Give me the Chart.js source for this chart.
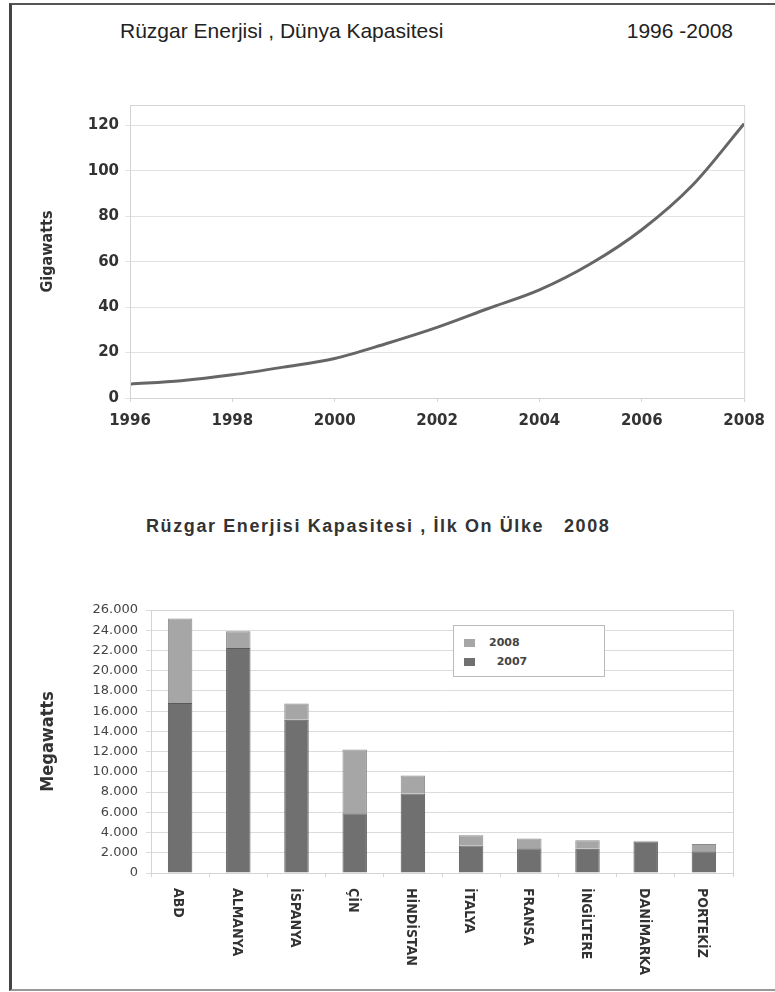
<!DOCTYPE html>
<html lang="tr">
<head>
    <meta charset="UTF-8">
    <title>Rüzgar Enerjisi</title>
    <script src="https://cdn.jsdelivr.net/npm/chart.js"></script>
    <style>
        body {
            margin: 0;
            background: #ffffff;
            font-family: "Liberation Sans", Arial, sans-serif;
            color: #222;
            width: 775px;
            height: 992px;
            overflow: hidden;
            position: relative;
        }

        .frame {
            position: absolute;
            left: 9px;
            top: 3px;
            width: 800px;
            height: 984px;
            border-left: 3px solid #444;
            border-top: 2px solid #555;
            border-bottom: 2px solid #999;
        }

        .title {
            position: absolute;
            white-space: pre;
        }

        #world-title {
            left: 120px;
            top: 19px;
            font-size: 21px;
        }

        #world-years {
            right: 42px;
            top: 19px;
            font-size: 21px;
        }

        #top10-title {
            left: 146px;
            top: 516px;
            font-size: 18px;
            font-weight: bold;
            letter-spacing: 1.6px;
            color: #333;
        }

        .box {
            position: absolute;
            left: 0;
            width: 775px;
        }

        #world-box { top: 90px; height: 350px; }
        #top10-box { top: 590px; height: 400px; }

        .legend {
            position: absolute;
            left: 453px;
            top: 625px;
            width: 150px;
            height: 50px;
            border: 1px solid #bbb;
            background: #fff;
            font-family: "DejaVu Sans", sans-serif;
            font-size: 11px;
            font-weight: bold;
            color: #444;
        }

        .legend div {
            position: absolute;
            left: 10px;
        }

        .legend span {
            display: inline-block;
            width: 11px;
            height: 8px;
            margin-right: 14px;
            vertical-align: middle;
        }
    </style>
</head>
<body>
    <div class="frame"></div>

    <div class="title" id="world-title">Rüzgar Enerjisi , Dünya Kapasitesi</div>
    <div class="title" id="world-years">1996 -2008</div>
    <div class="box" id="world-box"><canvas id="world-chart"></canvas></div>

    <div class="title" id="top10-title">Rüzgar Enerjisi Kapasitesi , İlk On Ülke   2008</div>
    <div class="box" id="top10-box"><canvas id="top10-chart"></canvas></div>

    <div class="legend">
        <div style="top: 10px;"><span style="background:#a6a6a6"></span>2008</div>
        <div style="top: 29px;"><span style="background:#707070"></span>&nbsp; 2007</div>
    </div>

    <script>
        // World installed capacity, GW
        const years = [1996, 1997, 1998, 1999, 2000, 2001, 2002, 2003, 2004, 2005, 2006, 2007, 2008];
        const gigawatts = [6.1, 7.6, 10.2, 13.6, 17.4, 23.9, 31.1, 39.4, 47.6, 59.1, 74.1, 93.9, 120.8];

        // Top ten countries, MW at end of year
        const countries = ["ABD", "ALMANYA", "İSPANYA", "ÇİN", "HİNDİSTAN", "İTALYA", "FRANSA", "İNGİLTERE", "DANİMARKA", "PORTEKİZ"];
        const mw2007 = [16818, 22247, 15145, 5912, 7850, 2726, 2454, 2389, 3125, 2150];
        const mw2008 = [25170, 23903, 16754, 12210, 9645, 3736, 3404, 3241, 3180, 2862];

        const narrow = "'Liberation Sans Narrow', 'DejaVu Sans Condensed', sans-serif";

        Chart.defaults.animation = false;
        Chart.defaults.responsive = true;
        Chart.defaults.maintainAspectRatio = false;
        Chart.defaults.plugins.legend.display = false;
        Chart.defaults.plugins.tooltip.enabled = false;

        // light frame round the plot area
        const plotFrame = {
            id: "plotFrame",
            afterDraw(chart) {
                const a = chart.chartArea;
                const ctx = chart.ctx;
                ctx.save();
                ctx.strokeStyle = "#d4d4d4";
                ctx.lineWidth = 1;
                ctx.strokeRect(a.left + 0.5, a.top + 0.5, a.right - a.left, a.bottom - a.top);
                ctx.restore();
            }
        };

        // country names turned to read downwards under each bar
        const downLabels = {
            id: "downLabels",
            afterDraw(chart) {
                const x = chart.scales.x;
                const ctx = chart.ctx;
                ctx.save();
                ctx.fillStyle = "#333";
                ctx.font = "bold 14px " + narrow;
                ctx.textAlign = "left";
                ctx.textBaseline = "middle";
                countries.forEach((name, i) => {
                    ctx.save();
                    ctx.translate(x.getPixelForValue(i) - 2, chart.chartArea.bottom + 15);
                    ctx.rotate(Math.PI / 2);
                    ctx.fillText(name, 0, 0);
                    ctx.restore();
                });
                ctx.restore();
            }
        };

        new Chart(document.getElementById("world-chart"), {
            type: "line",
            data: {
                datasets: [{
                    data: years.map((y, i) => ({ x: y, y: gigawatts[i] })),
                    borderColor: "#666666",
                    borderWidth: 3,
                    pointRadius: 0,
                    cubicInterpolationMode: "monotone",
                    fill: false
                }]
            },
            options: {
                layout: { padding: { top: 13, right: 29, left: 0, bottom: 0 } },
                scales: {
                    x: {
                        type: "linear",
                        min: 1996,
                        max: 2008,
                        afterFit: s => { s.height = 42; },
                        grid: { drawOnChartArea: false, color: "#d4d4d4", tickLength: 4 },
                        border: { color: "#c8c8c8" },
                        ticks: {
                            stepSize: 2,
                            padding: 10,
                            color: "#333",
                            font: { family: "'DejaVu Sans', sans-serif", size: 15, weight: "bold" },
                            callback: v => String(v)
                        }
                    },
                    y: {
                        min: 0,
                        max: 129,
                        afterFit: s => { s.width = 130; },
                        grid: { color: "#e2e2e2", tickLength: 5 },
                        border: { color: "#c8c8c8" },
                        ticks: {
                            stepSize: 20,
                            includeBounds: false,
                            padding: 6,
                            color: "#333",
                            font: { family: "'DejaVu Sans', sans-serif", size: 15, weight: "bold" }
                        },
                        title: {
                            display: true,
                            text: "Gigawatts",
                            color: "#333",
                            padding: { top: 38, bottom: 0 },
                            font: { family: narrow, size: 16, weight: "bold" }
                        }
                    }
                }
            },
            plugins: [plotFrame]
        });

        new Chart(document.getElementById("top10-chart"), {
            type: "bar",
            data: {
                labels: countries,
                datasets: [{
                    label: "2007",
                    data: mw2007,
                    backgroundColor: "#707070",
                    borderColor: "#5a5a5a",
                    borderWidth: 1,
                    barPercentage: 0.42,
                    categoryPercentage: 1
                }, {
                    label: "2008",
                    // growth during 2008 sits on top of the 2007 total
                    data: mw2008.map((v, i) => v - mw2007[i]),
                    backgroundColor: "#a6a6a6",
                    borderColor: "#8a8a8a",
                    borderWidth: 1,
                    barPercentage: 0.42,
                    categoryPercentage: 1
                }]
            },
            options: {
                layout: { padding: { top: 20, right: 42, left: 0, bottom: 0 } },
                scales: {
                    x: {
                        stacked: true,
                        afterFit: s => { s.height = 117; },
                        grid: { drawOnChartArea: false, color: "#d4d4d4", tickLength: 4, offset: true },
                        border: { color: "#c8c8c8" },
                        ticks: { display: false }
                    },
                    y: {
                        stacked: true,
                        min: 0,
                        max: 26000,
                        afterFit: s => { s.width = 151; },
                        grid: { color: "#dcdcdc", tickLength: 5 },
                        border: { color: "#c8c8c8" },
                        ticks: {
                            stepSize: 2000,
                            padding: 8,
                            color: "#444",
                            font: { family: "'DejaVu Sans', sans-serif", size: 13 },
                            callback: v => v === 0 ? "0" : (v / 1000) + ".000"
                        },
                        title: {
                            display: true,
                            text: "Megawatts",
                            color: "#333",
                            padding: { top: 38, bottom: 0 },
                            font: { family: narrow, size: 18, weight: "bold" }
                        }
                    }
                }
            },
            plugins: [plotFrame, downLabels]
        });
    </script>
</body>
</html>
